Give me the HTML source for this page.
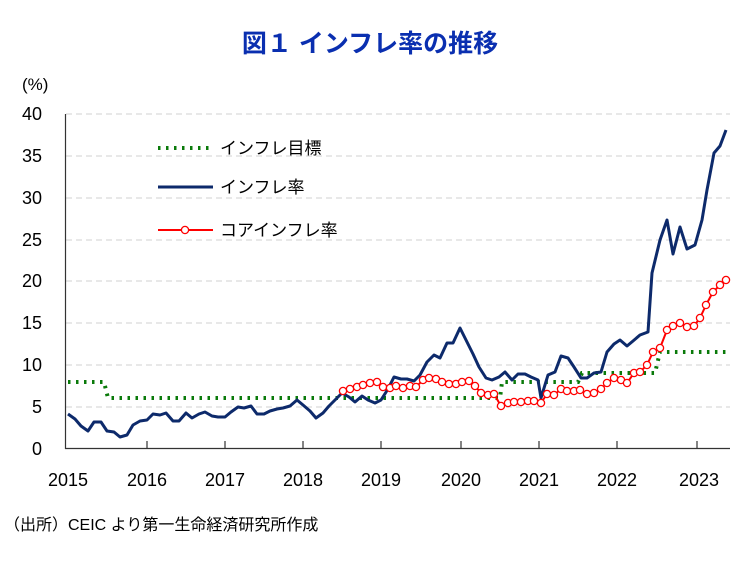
<!DOCTYPE html>
<html><head><meta charset="utf-8"><style>
body{margin:0;background:#fff;width:733px;height:570px;overflow:hidden;font-family:"Liberation Sans","Noto Sans CJK JP",sans-serif}
</style></head><body>
<svg width="733" height="570" xmlns="http://www.w3.org/2000/svg" font-family="Liberation Sans, Noto Sans CJK JP, sans-serif">
<text x="370" y="52" text-anchor="middle" font-size="25" font-weight="bold" fill="#0a2fb0">図１ インフレ率の推移</text>
<text x="22" y="90" font-size="17" fill="#000">(%)</text>
<g stroke="#d0d0d0" stroke-dasharray="6,4" stroke-width="1">
<line x1="66" x2="730" y1="114" y2="114"/><line x1="66" x2="730" y1="156" y2="156"/><line x1="66" x2="730" y1="198" y2="198"/><line x1="66" x2="730" y1="240" y2="240"/><line x1="66" x2="730" y1="281" y2="281"/><line x1="66" x2="730" y1="323" y2="323"/><line x1="66" x2="730" y1="365" y2="365"/><line x1="66" x2="730" y1="407" y2="407"/>
</g>
<g font-size="18" text-anchor="end" fill="#000">
<text x="42" y="120">40</text><text x="42" y="162">35</text><text x="42" y="204">30</text><text x="42" y="246">25</text><text x="42" y="287">20</text><text x="42" y="329">15</text><text x="42" y="371">10</text><text x="42" y="413">5</text><text x="42" y="455">0</text>
</g>
<line x1="65" x2="730" y1="448.5" y2="448.5" stroke="#333" stroke-width="1.2"/>
<line x1="65.5" x2="65.5" y1="114" y2="449" stroke="#333" stroke-width="1.2"/>
<g stroke="#333" stroke-width="1.2">
<line x1="147" x2="147" y1="449" y2="441"/><line x1="225" x2="225" y1="449" y2="441"/><line x1="303" x2="303" y1="449" y2="441"/><line x1="381" x2="381" y1="449" y2="441"/><line x1="461" x2="461" y1="449" y2="441"/><line x1="539" x2="539" y1="449" y2="441"/><line x1="617" x2="617" y1="449" y2="441"/><line x1="697" x2="697" y1="449" y2="441"/>
</g>
<g font-size="18" text-anchor="middle" fill="#000">
<text x="68" y="486">2015</text><text x="147" y="486">2016</text><text x="225" y="486">2017</text><text x="303" y="486">2018</text><text x="381" y="486">2019</text><text x="461" y="486">2020</text><text x="539" y="486">2021</text><text x="617" y="486">2022</text><text x="699" y="486">2023</text>
</g>
<polyline fill="none" stroke="#0a7a0a" stroke-width="4" stroke-dasharray="2.5,5.5" points="68,382 104,382 108,398 500,398 502,382 578,382 582,373 655,373 660,352 727,352"/>
<polyline fill="none" stroke="#0d2a6b" stroke-width="3" stroke-linejoin="round" points="68,414 75,419 81,426 88,431 94,422 101,422 107,431 114,432 120,437 127,435 133,425 140,421 147,420 153,414 160,415 166,413 173,421 179,421 186,413 192,418 199,414 205,412 212,416 218,417 225,417 231,412 238,407 244,408 251,406 257,414 264,414 270,411 277,409 283,408 290,406 297,400 303,405 310,411 316,418 323,413 329,406 336,399 342,393 349,397 355,402 362,396 368,400 375,403 381,400 388,389 394,377 401,379 407,379 414,381 420,375 427,362 434,355 440,358 447,343 453,343 460,328 466,340 473,354 479,367 486,378 492,380 499,377 505,372 512,380 518,374 525,374 531,377 538,380 541,398 548,375 555,372 561,356 568,358 574,367 581,378 587,378 594,373 601,372 607,352 614,344 620,340 627,346 633,341 640,335 648,332 652,273 660,240 667,220 673,254 680,227 687,249 695,245 702,220 707,190 714,153 720,146 726,130"/>
<g fill="#fff" stroke="#f00" stroke-width="1.3">
<polyline fill="none" stroke-width="2" points="343,391 350,389 357,387 363,385 370,383 377,382 383,387 390,388 396,386 403,388 410,386 416,387 423,380 429,378 436,379 442,382 449,384 456,384 462,382 469,381 475,386 481,393 488,395 494,394 501,406 508,403 514,402 521,402 528,401 534,401 541,403 547,394 554,395 561,389 567,391 574,391 580,390 587,394 594,393 601,389 607,383 614,378 621,380 627,383 634,373 640,372 647,365 653,352 660,348 667,330 673,326 680,323 687,327 694,326 700,318 706,305 713,292 720,285 726,280"/>
<circle cx="343" cy="391" r="3.6"/><circle cx="350" cy="389" r="3.6"/><circle cx="357" cy="387" r="3.6"/><circle cx="363" cy="385" r="3.6"/><circle cx="370" cy="383" r="3.6"/><circle cx="377" cy="382" r="3.6"/><circle cx="383" cy="387" r="3.6"/><circle cx="390" cy="388" r="3.6"/><circle cx="396" cy="386" r="3.6"/><circle cx="403" cy="388" r="3.6"/><circle cx="410" cy="386" r="3.6"/><circle cx="416" cy="387" r="3.6"/><circle cx="423" cy="380" r="3.6"/><circle cx="429" cy="378" r="3.6"/><circle cx="436" cy="379" r="3.6"/><circle cx="442" cy="382" r="3.6"/><circle cx="449" cy="384" r="3.6"/><circle cx="456" cy="384" r="3.6"/><circle cx="462" cy="382" r="3.6"/><circle cx="469" cy="381" r="3.6"/><circle cx="475" cy="386" r="3.6"/><circle cx="481" cy="393" r="3.6"/><circle cx="488" cy="395" r="3.6"/><circle cx="494" cy="394" r="3.6"/><circle cx="501" cy="406" r="3.6"/><circle cx="508" cy="403" r="3.6"/><circle cx="514" cy="402" r="3.6"/><circle cx="521" cy="402" r="3.6"/><circle cx="528" cy="401" r="3.6"/><circle cx="534" cy="401" r="3.6"/><circle cx="541" cy="403" r="3.6"/><circle cx="547" cy="394" r="3.6"/><circle cx="554" cy="395" r="3.6"/><circle cx="561" cy="389" r="3.6"/><circle cx="567" cy="391" r="3.6"/><circle cx="574" cy="391" r="3.6"/><circle cx="580" cy="390" r="3.6"/><circle cx="587" cy="394" r="3.6"/><circle cx="594" cy="393" r="3.6"/><circle cx="601" cy="389" r="3.6"/><circle cx="607" cy="383" r="3.6"/><circle cx="614" cy="378" r="3.6"/><circle cx="621" cy="380" r="3.6"/><circle cx="627" cy="383" r="3.6"/><circle cx="634" cy="373" r="3.6"/><circle cx="640" cy="372" r="3.6"/><circle cx="647" cy="365" r="3.6"/><circle cx="653" cy="352" r="3.6"/><circle cx="660" cy="348" r="3.6"/><circle cx="667" cy="330" r="3.6"/><circle cx="673" cy="326" r="3.6"/><circle cx="680" cy="323" r="3.6"/><circle cx="687" cy="327" r="3.6"/><circle cx="694" cy="326" r="3.6"/><circle cx="700" cy="318" r="3.6"/><circle cx="706" cy="305" r="3.6"/><circle cx="713" cy="292" r="3.6"/><circle cx="720" cy="285" r="3.6"/><circle cx="726" cy="280" r="3.6"/>
</g>
<line x1="158" x2="213" y1="148" y2="148" stroke="#0a7a0a" stroke-width="4" stroke-dasharray="2.5,5.5"/>
<text x="220" y="154" font-size="17">インフレ目標</text>
<line x1="158" x2="213" y1="187" y2="187" stroke="#0d2a6b" stroke-width="3"/>
<text x="220" y="193" font-size="17">インフレ率</text>
<line x1="158" x2="213" y1="230" y2="230" stroke="#f00" stroke-width="2"/>
<circle cx="185" cy="230" r="3.6" fill="#fff" stroke="#f00" stroke-width="1.3"/>
<text x="220" y="236" font-size="17">コアインフレ率</text>
<text x="4" y="530" font-size="16">（出所）CEIC より第一生命経済研究所作成</text>
</svg>
</body></html>
